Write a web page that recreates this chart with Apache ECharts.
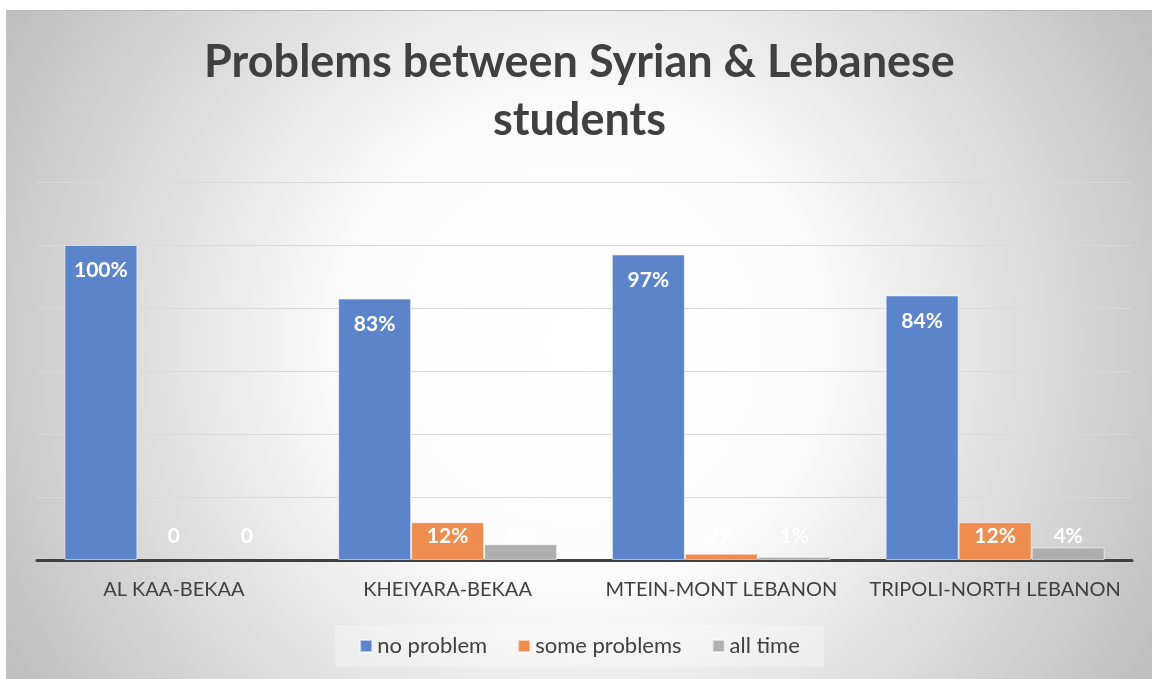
<!DOCTYPE html>
<html>
<head>
<meta charset="utf-8">
<script src="https://cdn.jsdelivr.net/npm/echarts@6/dist/echarts.min.js"></script>
<style>
  html, body { margin: 0; padding: 0; background: #fff; }
  #chart {
    position: absolute; left: 6px; top: 10px;
    width: 1146px; height: 669px;
    border-top: 1px solid #b8b8b8; border-left: 1px solid #c4c4c4;
    box-sizing: border-box;
  }
</style>
</head>
<body>
<div id="chart"></div>
<script>
var categories = ['AL KAA-BEKAA', 'KHEIYARA-BEKAA', 'MTEIN-MONT LEBANON', 'TRIPOLI-NORTH LEBANON']
var noProblem = [100, 83, 97, 84]
var someProblems = [0, 12, 2, 12]
var allTime = [0, 5, 1, 4]
var seriesNames = ['no problem', 'some problems', 'all time']
var colors = ['#5b84cb', '#ee8d4f', '#afafaf']

var chart = echarts.init(document.getElementById('chart'))

function fmt(p) {
  return p.value === 0 ? '0' : p.value + '%'
}

var labelTop = {
  show: true,
  position: 'insideTop',
  distance: 15,
  color: '#fff',
  fontFamily: 'Lato',
  fontWeight: 'bold',
  fontSize: 21,
  formatter: fmt
}
// small bars: Excel pins these labels just above the axis
var labelLow = {
  show: true,
  position: 'insideBottom',
  distance: 13,
  color: '#fff',
  fontFamily: 'Lato',
  fontWeight: 'bold',
  fontSize: 21,
  formatter: fmt
}

function makeSeries(name, data, color, label) {
  return {
    name: name,
    type: 'bar',
    // no outline on empty bars
    data: data.map(function (v) {
      return v === 0 ? { value: 0, itemStyle: { borderWidth: 0 } } : v
    }),
    barGap: '0%',
    barCategoryGap: '20%',
    itemStyle: { color: color, borderColor: 'rgba(255,255,255,0.55)', borderWidth: 1 },
    label: label
  }
}

var option = {
  backgroundColor: new echarts.graphic.RadialGradient(0.5, 0.5, 1.0, [
    { offset: 0, color: '#ffffff' },
    { offset: 0.35, color: '#fcfcfc' },
    { offset: 1, color: '#bdbdbd' }
  ]),
  textStyle: { fontFamily: 'Lato' },
  title: {
    text: 'Problems between Syrian & Lebanese\nstudents',
    left: 'center',
    top: 17,
    textStyle: {
      fontFamily: 'Lato',
      fontWeight: 'bold',
      fontSize: 45,
      lineHeight: 58,
      color: '#404040'
    }
  },
  legend: {
    data: seriesNames,
    bottom: 12,
    left: 'center',
    itemWidth: 12,
    itemHeight: 12,
    itemGap: 30,
    padding: [10, 24],
    backgroundColor: 'rgba(255,255,255,0.3)',
    icon: 'rect',
    textStyle: { fontSize: 22, color: '#404040', fontFamily: 'Lato' }
  },
  grid: { left: 30, right: 20, top: 171, bottom: 119 },
  xAxis: {
    type: 'category',
    data: categories,
    axisLine: { lineStyle: { color: '#404040', width: 3 } },
    axisTick: { show: false },
    axisLabel: { interval: 0, color: '#404040', fontSize: 20, margin: 20, fontFamily: 'Lato' }
  },
  yAxis: {
    type: 'value',
    min: 0,
    max: 120,
    interval: 20,
    axisLabel: { show: false },
    axisLine: { show: false },
    axisTick: { show: false },
    splitLine: { lineStyle: { color: '#d9d9d9', width: 1 } }
  },
  series: [
    makeSeries(seriesNames[0], noProblem, colors[0], labelTop),
    makeSeries(seriesNames[1], someProblems, colors[1], labelLow),
    makeSeries(seriesNames[2], allTime, colors[2], labelLow)
  ]
}

chart.setOption(option)
</script>
</body>
</html>
